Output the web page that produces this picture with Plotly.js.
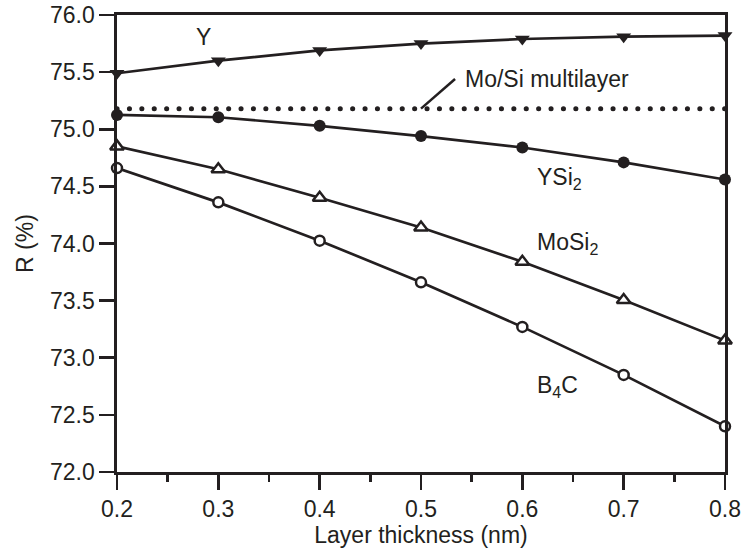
<!DOCTYPE html>
<html>
<head>
<meta charset="utf-8">
<script src="https://cdn.plot.ly/plotly-3.0.1.min.js"></script>
<style>
html,body{margin:0;padding:0;background:#fff;}
#chart{width:743px;height:552px;}
path.js-line{stroke-linecap:round;}
</style>
</head>
<body>
<div id="chart"></div>
<script>
// Data
const thickness = [0.2, 0.3, 0.4, 0.5, 0.6, 0.7, 0.8];
const rY     = [75.49, 75.60, 75.69, 75.75, 75.79, 75.81, 75.82];
const rYSi2  = [75.125, 75.105, 75.03, 74.94, 74.84, 74.71, 74.56];
const rMoSi2 = [74.85, 74.65, 74.40, 74.14, 73.84, 73.505, 73.15];
const rB4C   = [74.66, 74.36, 74.025, 73.66, 73.27, 72.85, 72.40];
const moSiX  = [0.2, 0.8];
const moSiR  = [75.18, 75.18];
const xTicks = [0.2, 0.3, 0.4, 0.5, 0.6, 0.7, 0.8];
const yTicks = [72.0, 72.5, 73.0, 73.5, 74.0, 74.5, 75.0, 75.5, 76.0];

const INK = '#231f20';
const FONT = '"Liberation Sans", Arial, Helvetica, sans-serif';
const FS = 23;

function series(y, symbol, size, fill, lw) {
  return {
    x: thickness, y: y, type: 'scatter', mode: 'lines+markers',
    line: {color: INK, width: 2.7},
    marker: {symbol: symbol, size: size, color: fill, line: {color: INK, width: lw}},
    cliponaxis: false, showlegend: false, hoverinfo: 'skip'
  };
}

const traces = [
  {x: moSiX, y: moSiR, type: 'scatter', mode: 'lines',
   line: {color: INK, width: 5, dash: '0.1px,12.3px'}, showlegend: false, hoverinfo: 'skip', cliponaxis: false},
  series(rY, 'triangle-down', 13, INK, 0),
  series(rYSi2, 'circle', 12, INK, 0),
  series(rMoSi2, 'triangle-up', 12, '#ffffff', 2.5),
  series(rB4C, 'circle', 10, '#ffffff', 2.5)
];

const labelFont = {family: FONT, size: FS, color: INK};
const annotations = [
  {x: 0.285, y: 75.81, text: 'Y', xanchor: 'center'},
  {x: 0.5415, y: 75.44, text: 'Mo/Si multilayer', xanchor: 'left'},
  {x: 0.6125, y: 74.57, text: 'YSi<sub>2</sub>', xanchor: 'left'},
  {x: 0.6125, y: 74.00, text: 'MoSi<sub>2</sub>', xanchor: 'left'},
  {x: 0.6125, y: 72.75, text: 'B<sub>4</sub>C', xanchor: 'left'}
].map(a => Object.assign({xref: 'x', yref: 'y', yanchor: 'middle', showarrow: false, font: labelFont}, a));

const leader = {type: 'line', xref: 'x', yref: 'y', x0: 0.5, y0: 75.18, x1: 0.5336, y1: 75.44,
                line: {color: INK, width: 2.5}};

const axisCommon = {
  showline: true, mirror: true, linecolor: INK, linewidth: 2.7,
  showgrid: false, zeroline: false, ticks: 'outside', tickcolor: INK, tickwidth: 2.7, ticklen: 15,
  tickfont: {family: FONT, size: FS, color: INK}, tickformat: '.1f'
};

const layout = {
  width: 743, height: 552,
  margin: {l: 117, r: 18, t: 15, b: 80},
  paper_bgcolor: '#ffffff', plot_bgcolor: '#ffffff',
  font: {family: FONT, size: FS, color: INK},
  xaxis: Object.assign({}, axisCommon, {
    range: [0.2, 0.8], tickmode: 'array', tickvals: xTicks,
    minor: {dtick: 0.05, tick0: 0.2, ticks: 'outside', ticklen: 7, tickwidth: 2.7, tickcolor: INK, showgrid: false},
    title: {text: 'Layer thickness (nm)', font: {family: FONT, size: FS, color: INK}, standoff: 6}
  }),
  yaxis: Object.assign({}, axisCommon, {
    range: [72, 76], tickmode: 'array', tickvals: yTicks,
    title: {text: 'R (%)', font: {family: FONT, size: FS, color: INK}, standoff: 10}
  }),
  annotations: annotations,
  shapes: [leader]
};

Plotly.newPlot('chart', traces, layout, {staticPlot: true, displayModeBar: false});
</script>
</body>
</html>
